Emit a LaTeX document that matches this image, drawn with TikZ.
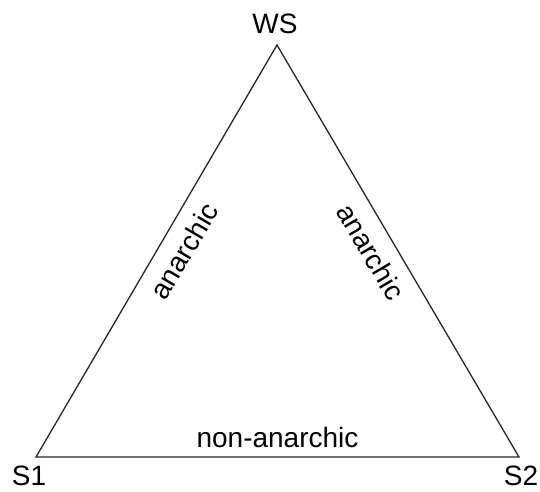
\documentclass[tikz,border=0pt]{standalone}
\usepackage{fontspec}
\setmainfont{Liberation Sans}
\begin{document}
\begin{tikzpicture}[x=1pt,y=-1pt,
  edge/.style={draw=black!85, line width=1.3pt},
  lbl/.style={font=\fontsize{28}{30}\selectfont, inner sep=0pt}]
\useasboundingbox (0,0) rectangle (540,491);
\coordinate (ws) at (277,45);
\coordinate (s1) at (36,457);
\coordinate (s2) at (519,457);
\draw[edge, line join=miter] (ws) -- (s1) -- (s2) -- cycle;
\node[lbl] (tws) at (275,24) {WS};
\node[lbl] (ts1) at (29,476) {S1};
\node[lbl] (ts2) at (521,476) {S2};
\node[lbl, rotate=59.6] (la) at (184,251) {anarchic};
\node[lbl, rotate=-59.6] (ra) at (371,252) {anarchic};
\node[lbl] (na) at (277.5,437) {non-anarchic};
\end{tikzpicture}
\end{document}
